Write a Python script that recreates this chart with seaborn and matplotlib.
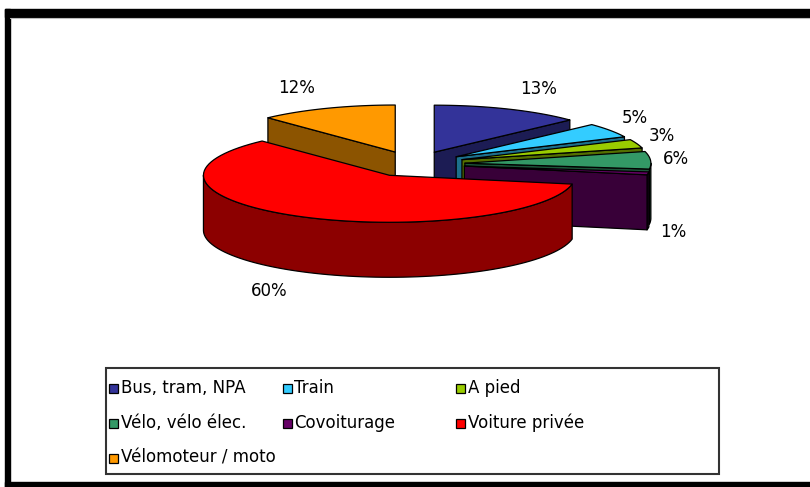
import numpy as np
import matplotlib
matplotlib.use("Agg")
import matplotlib.pyplot as plt
from matplotlib.colors import to_rgb
from matplotlib.patches import Rectangle
import seaborn as sns

# ---- data ----
categories = ["Bus, tram, NPA", "Train", "A pied", "Vélo, vélo élec.",
              "Covoiturage", "Voiture privée", "Vélomoteur / moto"]
values = [13, 5, 3, 6, 1, 60, 12]
colors = ["#333399", "#33ccff", "#99cc00", "#339966",
          "#660066", "#ff0000", "#ff9900"]

sns.set_theme(style="white")
plt.rcParams['font.family'] = ['DejaVu Sans']

W, Hpx = 810, 487
fig = plt.figure(figsize=(W / 100, Hpx / 100), dpi=100)
fig.patch.set_facecolor("white")
ax = fig.add_axes([0, 0, 1, 1])
ax.set_xlim(0, W)
ax.set_ylim(Hpx, 0)
ax.axis("off")

# ---- outer frame ----
ax.add_patch(Rectangle((5, 9), W - 5, 8, color="black", zorder=1))
ax.add_patch(Rectangle((5, 9), 5, Hpx - 9, color="black", zorder=1))
ax.add_patch(Rectangle((5, 482), W - 5, 5, color="black", zorder=1))
ax.plot([10, W], [18, 18], color="#bbbbbb", lw=0.8, zorder=1)

# ---- 3D pie geometry ----
CX0, CY0 = 414.0, 164.0
RX, RY, TH = 186.0, 47.0, 55.0
EXPL = 0.274

total = float(sum(values))
angles = np.concatenate([[0], np.cumsum(values)]) / total * 360.0


def arc(cx, cy, a1, a2, n=80):
    t = np.radians(np.linspace(a1, a2, n))
    return cx + RX * np.sin(t), cy - RY * np.cos(t)


def rim(cx, cy, a):
    t = np.radians(a)
    return cx + RX * np.sin(t), cy - RY * np.cos(t)


slices = []
for i, v in enumerate(values):
    a1, a2 = angles[i], angles[i + 1]
    mid = (a1 + a2) / 2
    m = np.radians(mid)
    cx = CX0 + EXPL * RX * np.sin(m)
    cy = CY0 - EXPL * RY * np.cos(m)
    slices.append((i, a1, a2, mid, cx, cy))

order = sorted(slices, key=lambda s: -np.cos(np.radians(s[3])))
z = 5
ekw = dict(edgecolor="black", linewidth=0.9, joinstyle="round")
for (i, a1, a2, mid, cx, cy) in order:
    top = colors[i]
    dark = tuple(np.array(to_rgb(top)) * 0.55)
    # outer curved wall (front part)
    lo, hi = max(a1, 90.0), min(a2, 270.0)
    if hi > lo:
        xs, ys = arc(cx, cy, lo, hi)
        ax.fill(np.concatenate([xs, xs[::-1]]),
                np.concatenate([ys, ys[::-1] + TH]),
                facecolor=dark, zorder=z, **ekw)
        z += 1
    # radial faces
    if 180.0 < a1 < 360.0:
        rx_, ry_ = rim(cx, cy, a1)
        ax.fill([cx, rx_, rx_, cx], [cy, ry_, ry_ + TH, cy + TH],
                facecolor=dark, zorder=z, **ekw)
        z += 1
    if 0.0 < a2 < 180.0:
        rx_, ry_ = rim(cx, cy, a2)
        ax.fill([cx, rx_, rx_, cx], [cy, ry_, ry_ + TH, cy + TH],
                facecolor=dark, zorder=z, **ekw)
        z += 1
    # top face
    xs, ys = arc(cx, cy, a1, a2)
    ax.fill(np.concatenate([[cx], xs]), np.concatenate([[cy], ys]),
            facecolor=top, zorder=z, **ekw)
    z += 1

# ---- percentage labels ----
for (i, a1, a2, mid, cx, cy) in slices:
    m = np.radians(mid)
    xr, yr = rim(cx, cy, mid)
    if np.cos(m) < 0:
        yr += TH
    s = np.sin(m)
    x = xr + 12 * np.sign(s)
    y = yr - 22 * np.cos(m)
    ax.text(x, y, f"{values[i]}%", ha="left" if s > 0 else "right",
            va="center", fontsize=12, color="black", zorder=100)

# ---- legend ----
ax.add_patch(Rectangle((106, 368), 613, 106, fill=False,
                       edgecolor="#333333", linewidth=1.5, zorder=50))
col_w = 173.5
for k, name in enumerate(categories):
    r, c = divmod(k, 3)
    sx = 109 + c * col_w
    sy = 388 + r * 35
    ax.add_patch(Rectangle((sx, sy - 4.5), 9, 9, facecolor=colors[k],
                           edgecolor="black", linewidth=0.9, zorder=51))
    ax.text(sx + 12, sy, name, ha="left", va="center", fontsize=12,
            color="black", zorder=51)

fig.savefig("out.png", dpi=100, facecolor="white")
